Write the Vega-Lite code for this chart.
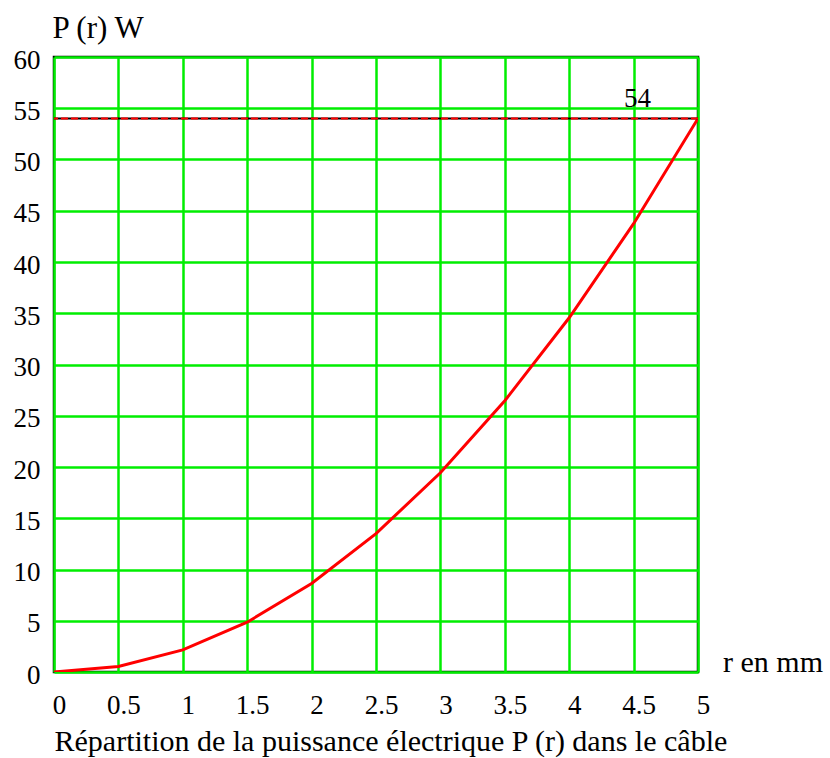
{
  "$schema": "https://vega.github.io/schema/vega-lite/v6.json",
  "width": 644,
  "height": 615,
  "padding": {"left": 54, "top": 57, "right": 132, "bottom": 86},
  "autosize": {"type": "none"},
  "background": "white",
  "config": {
    "font": "Liberation Serif",
    "view": {"stroke": "black", "strokeWidth": 2.5},
    "axis": {
      "labelColor": "black",
      "titleColor": "black",
      "titleFontWeight": "normal",
      "gridColor": "#00ee00",
      "gridWidth": 2.5,
      "gridOpacity": 1,
      "domain": false,
      "ticks": false,
      "tickSize": 0
    }
  },
  "datasets": {
    "curve": [
      {"r": 0, "P": 0},
      {"r": 0.5, "P": 0.54},
      {"r": 1, "P": 2.16},
      {"r": 1.5, "P": 4.86},
      {"r": 2, "P": 8.64},
      {"r": 2.5, "P": 13.5},
      {"r": 3, "P": 19.44},
      {"r": 3.5, "P": 26.46},
      {"r": 4, "P": 34.56},
      {"r": 4.5, "P": 43.74},
      {"r": 5, "P": 54}
    ],
    "ref": [{"r": 4.53, "P": 54, "label": "54", "unit": "r en mm", "r0": 5, "P0": 0}]
  },
  "layer": [
    {
      "data": {"name": "curve"},
      "mark": {"type": "line", "color": "red", "strokeWidth": 3, "clip": true},
      "encoding": {
        "x": {
          "field": "r", "type": "quantitative",
          "scale": {"domain": [0, 5], "nice": false},
          "axis": {
            "values": [0, 0.5, 1, 1.5, 2, 2.5, 3, 3.5, 4, 4.5, 5],
            "format": "~g",
            "labelFont": "Liberation Serif", "labelFontSize": 27,
            "titleFont": "Liberation Serif", "titleFontSize": 30,
            "labelPadding": 41, "labelBaseline": "alphabetic", "labelOffset": 5,
            "labelFlush": false, "labelOverlap": false,
            "title": "Répartition de la puissance électrique P (r) dans le câble",
            "titleX": 0, "titleY": 78, "titleAlign": "left", "titleAnchor": "start",
            "titleBaseline": "alphabetic"
          }
        },
        "y": {
          "field": "P", "type": "quantitative",
          "scale": {"domain": [0, 60], "nice": false},
          "axis": {
            "values": [0, 5, 10, 15, 20, 25, 30, 35, 40, 45, 50, 55, 60],
            "labelFont": "Liberation Serif", "labelFontSize": 27,
            "titleFont": "Liberation Serif", "titleFontSize": 31,
            "labelPadding": 14, "labelBaseline": "middle", "labelOffset": 3,
            "labelFlush": false, "labelOverlap": false,
            "title": "P (r) W",
            "titleAngle": 0, "titleX": -2, "titleY": -20,
            "titleAlign": "left", "titleAnchor": "start", "titleBaseline": "alphabetic"
          }
        }
      }
    },
    {
      "data": {"name": "ref"},
      "mark": {"type": "rule", "color": "black", "strokeWidth": 2},
      "encoding": {"y": {"field": "P", "type": "quantitative"}}
    },
    {
      "data": {"name": "ref"},
      "mark": {"type": "rule", "color": "red", "strokeWidth": 2, "strokeDash": [7, 3]},
      "encoding": {"y": {"field": "P", "type": "quantitative"}}
    },
    {
      "data": {"name": "ref"},
      "mark": {"type": "text", "font": "Liberation Serif", "fontSize": 27, "align": "center", "baseline": "alphabetic", "dy": -12, "color": "black"},
      "encoding": {
        "x": {"field": "r", "type": "quantitative"},
        "y": {"field": "P", "type": "quantitative"},
        "text": {"field": "label"}
      }
    },
    {
      "data": {"name": "ref"},
      "mark": {"type": "text", "font": "Liberation Serif", "fontSize": 30, "align": "left", "baseline": "alphabetic", "dx": 25, "color": "black"},
      "encoding": {
        "x": {"field": "r0", "type": "quantitative"},
        "y": {"field": "P0", "type": "quantitative"},
        "text": {"field": "unit"}
      }
    }
  ]
}
